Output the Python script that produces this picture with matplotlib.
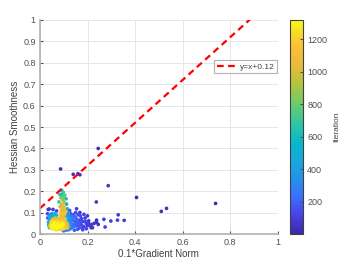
import matplotlib
matplotlib.use("Agg")
import matplotlib.pyplot as plt
import numpy as np
from matplotlib.colors import LinearSegmentedColormap

plt.rcParams['font.family'] = ['Liberation Sans', 'DejaVu Sans']

# (0.1*gradient norm, hessian smoothness, iteration)
early_pts = [
    (0.245, 0.400, 20), (0.087, 0.304, 30), (0.140, 0.279, 45), (0.168, 0.277, 40),
    (0.160, 0.282, 50), (0.287, 0.226, 60), (0.237, 0.150, 70), (0.406, 0.171, 35),
    (0.510, 0.106, 50), (0.532, 0.120, 55), (0.738, 0.143, 25), (0.329, 0.090, 80),
    (0.298, 0.061, 90), (0.269, 0.069, 100), (0.274, 0.033, 110), (0.354, 0.064, 85),
    (0.326, 0.065, 95), (0.035, 0.115, 60), (0.039, 0.117, 70), (0.055, 0.115, 90),
    (0.154, 0.118, 80), (0.032, 0.095, 120), (0.033, 0.075, 150), (0.070, 0.108, 100),
]

blue_pts = [
    (0.135, 0.030, 230), (0.140, 0.045, 210), (0.145, 0.060, 190), (0.150, 0.038, 180),
    (0.155, 0.070, 170), (0.160, 0.050, 160), (0.165, 0.028, 150), (0.168, 0.065, 140),
    (0.170, 0.085, 130), (0.175, 0.042, 120), (0.180, 0.058, 110), (0.185, 0.035, 100),
    (0.190, 0.075, 95), (0.195, 0.050, 90), (0.200, 0.040, 85), (0.205, 0.062, 80),
    (0.210, 0.042, 75), (0.215, 0.030, 70), (0.221, 0.030, 65), (0.228, 0.050, 60),
    (0.238, 0.055, 55), (0.238, 0.065, 50), (0.245, 0.045, 45), (0.168, 0.101, 90),
    (0.140, 0.090, 150), (0.150, 0.100, 120), (0.130, 0.095, 170), (0.125, 0.110, 140),
    (0.145, 0.018, 200), (0.158, 0.022, 180), (0.180, 0.020, 130), (0.195, 0.025, 110),
    (0.132, 0.060, 250), (0.138, 0.072, 220), (0.148, 0.080, 200), (0.160, 0.090, 150),
    (0.175, 0.072, 120), (0.185, 0.092, 100), (0.200, 0.085, 80), (0.120, 0.020, 260),
    (0.110, 0.018, 280), (0.100, 0.015, 300), (0.152, 0.048, 190), (0.162, 0.040, 170),
    (0.172, 0.055, 150), (0.142, 0.035, 240), (0.157, 0.062, 200), (0.178, 0.030, 140),
    (0.190, 0.060, 120), (0.205, 0.050, 100), (0.218, 0.045, 80), (0.127, 0.040, 270),
    (0.135, 0.082, 230), (0.122, 0.085, 260), (0.128, 0.025, 280), (0.115, 0.095, 240),
]

cyan_pts = [
    (0.036, 0.055, 420), (0.038, 0.072, 380), (0.041, 0.090, 340), (0.046, 0.080, 460),
    (0.050, 0.095, 330), (0.040, 0.030, 440), (0.055, 0.085, 520), (0.062, 0.095, 480),
    (0.070, 0.088, 560), (0.115, 0.060, 400), (0.120, 0.045, 360), (0.125, 0.068, 330),
    (0.118, 0.075, 440), (0.122, 0.030, 400), (0.128, 0.052, 340), (0.130, 0.040, 320),
    (0.112, 0.085, 420), (0.132, 0.075, 310), (0.037, 0.042, 500), (0.043, 0.065, 540),
]

green_pts = [
    (0.091, 0.205, 560), (0.084, 0.185, 640), (0.098, 0.195, 700), (0.105, 0.182, 760),
    (0.110, 0.165, 600), (0.088, 0.170, 820), (0.095, 0.160, 880), (0.102, 0.150, 900),
    (0.080, 0.150, 700), (0.112, 0.140, 520), (0.115, 0.118, 480), (0.085, 0.128, 950),
    (0.120, 0.100, 420), (0.092, 0.185, 620), (0.100, 0.172, 780),
]

column_pts = [
    (0.088, 0.085, 1050), (0.095, 0.090, 1100), (0.102, 0.088, 1000), (0.092, 0.098, 1080),
    (0.099, 0.104, 1020), (0.105, 0.097, 1120), (0.090, 0.110, 990), (0.097, 0.115, 1060),
    (0.104, 0.112, 1010), (0.094, 0.122, 1040), (0.100, 0.128, 980), (0.096, 0.136, 1030),
    (0.108, 0.105, 1090), (0.086, 0.095, 1150), (0.091, 0.140, 1000), (0.103, 0.124, 1050),
]

yellow_pts = [
    (0.045, 0.030, 1200), (0.050, 0.036, 1250), (0.055, 0.028, 1300), (0.060, 0.041, 1180),
    (0.065, 0.033, 1270), (0.070, 0.027, 1310), (0.075, 0.038, 1220), (0.080, 0.031, 1290),
    (0.085, 0.044, 1160), (0.090, 0.029, 1240), (0.095, 0.036, 1200), (0.100, 0.031, 1130),
    (0.105, 0.042, 1100), (0.110, 0.034, 1080), (0.115, 0.028, 1050), (0.048, 0.046, 1230),
    (0.053, 0.052, 1190), (0.058, 0.047, 1280), (0.063, 0.055, 1150), (0.068, 0.049, 1260),
    (0.073, 0.058, 1140), (0.078, 0.045, 1300), (0.083, 0.053, 1210), (0.088, 0.060, 1120),
    (0.093, 0.048, 1250), (0.098, 0.055, 1170), (0.103, 0.050, 1090), (0.108, 0.046, 1060),
    (0.042, 0.040, 1100), (0.047, 0.058, 1140), (0.052, 0.064, 1080), (0.057, 0.039, 1320),
    (0.062, 0.062, 1120), (0.067, 0.043, 1300), (0.072, 0.066, 1100), (0.077, 0.052, 1270),
    (0.082, 0.039, 1310), (0.087, 0.068, 1050), (0.092, 0.057, 1190), (0.097, 0.043, 1280),
    (0.102, 0.062, 1070), (0.107, 0.038, 1150), (0.112, 0.049, 1040), (0.044, 0.034, 1180),
    (0.051, 0.025, 1260), (0.059, 0.033, 1290), (0.066, 0.056, 1240), (0.071, 0.035, 1320),
    (0.079, 0.061, 1130), (0.086, 0.034, 1300), (0.094, 0.065, 1080), (0.099, 0.025, 1230),
    (0.106, 0.057, 1060), (0.113, 0.040, 1020), (0.118, 0.035, 990), (0.056, 0.070, 1050),
    (0.064, 0.072, 1010), (0.074, 0.074, 1030), (0.084, 0.071, 1000), (0.091, 0.076, 1070),
    (0.096, 0.070, 1110), (0.101, 0.073, 1020), (0.069, 0.020, 1250), (0.076, 0.022, 1210),
    (0.089, 0.021, 1180), (0.061, 0.024, 1270), (0.049, 0.041, 1290), (0.054, 0.058, 1220),
    (0.059, 0.053, 1310), (0.063, 0.045, 1240), (0.069, 0.060, 1200), (0.074, 0.032, 1280),
    (0.078, 0.055, 1190), (0.081, 0.047, 1260), (0.085, 0.025, 1230), (0.091, 0.040, 1300),
    (0.096, 0.051, 1270), (0.104, 0.028, 1160), (0.109, 0.055, 1110), (0.046, 0.051, 1170),
    (0.060, 0.066, 1140), (0.070, 0.041, 1250), (0.083, 0.064, 1180), (0.099, 0.047, 1300),
    (0.116, 0.045, 1000), (0.052, 0.031, 1280),
]

fit_slope = 1.0
fit_intercept = 0.12

all_pts = early_pts + blue_pts + cyan_pts + green_pts + column_pts + yellow_pts
all_pts = sorted(all_pts, key=lambda p: p[2])
gx = np.array([p[0] for p in all_pts])
hy = np.array([p[1] for p in all_pts])
it = np.array([p[2] for p in all_pts])

# rough parula
parula = LinearSegmentedColormap.from_list('parula', [
    (0.00, (0.242, 0.150, 0.660)),
    (0.10, (0.276, 0.280, 0.930)),
    (0.18, (0.230, 0.450, 0.990)),
    (0.25, (0.140, 0.560, 0.930)),
    (0.33, (0.100, 0.650, 0.880)),
    (0.42, (0.020, 0.720, 0.790)),
    (0.50, (0.150, 0.770, 0.680)),
    (0.60, (0.400, 0.800, 0.450)),
    (0.70, (0.700, 0.770, 0.240)),
    (0.80, (0.930, 0.730, 0.230)),
    (0.88, (0.990, 0.750, 0.210)),
    (0.95, (0.960, 0.880, 0.150)),
    (1.00, (0.977, 0.984, 0.081)),
])

fig = plt.figure(figsize=(3.5, 2.63), dpi=100)
ax = fig.add_axes([0.114, 0.110, 0.680, 0.814])
cax = fig.add_axes([0.829, 0.110, 0.037, 0.814])

sc = ax.scatter(gx, hy, c=it, cmap=parula, vmin=1, vmax=1320, s=7, linewidths=0)
lx = np.array([0.0, 1.0])
ax.plot(lx, fit_slope * lx + fit_intercept, '--', color='red', lw=1.6,
        dashes=(3, 2), label='y=x+0.12')

ax.set_xlim(0, 1)
ax.set_ylim(0, 1)
ax.set_xticks(np.arange(0, 1.01, 0.2))
ax.set_xticklabels(['0', '0.2', '0.4', '0.6', '0.8', '1'])
ax.set_yticks(np.arange(0, 1.01, 0.1))
ax.set_yticklabels(['0', '0.1', '0.2', '0.3', '0.4', '0.5', '0.6', '0.7', '0.8', '0.9', '1'])
ax.grid(True, color='#e6e6e6', lw=0.7)
ax.set_axisbelow(True)
for s in ['top', 'right']:
    ax.spines[s].set_visible(False)
for s in ['left', 'bottom']:
    ax.spines[s].set_color('#b0b0b0')
    ax.spines[s].set_linewidth(1.2)
ax.tick_params(direction='in', length=2.5, labelsize=6.5, colors='#505050', pad=3)
ax.set_xlabel('0.1*Gradient Norm', fontsize=7, color='#404040', labelpad=1)
ax.set_ylabel('Hessian Smoothness', fontsize=7, color='#404040', labelpad=2)

leg = ax.legend(loc='upper right', bbox_to_anchor=(0.998, 0.812), fontsize=6,
                frameon=True, fancybox=False, handlelength=2.6, borderpad=0.3,
                handletextpad=0.2, borderaxespad=0)
leg.get_frame().set_edgecolor('#a0a0a0')
leg.get_frame().set_linewidth(0.8)
for t in leg.get_texts():
    t.set_color('#404040')

cb = fig.colorbar(sc, cax=cax)
cb.set_ticks([200, 400, 600, 800, 1000, 1200])
cb.ax.tick_params(direction='in', length=2.5, labelsize=6.5, colors='#505050', pad=3)
cb.outline.set_edgecolor('#404040')
cb.outline.set_linewidth(0.8)
cb.set_label('Iteration', fontsize=6, color='#404040', labelpad=4)

fig.savefig('out.png', dpi=100)
